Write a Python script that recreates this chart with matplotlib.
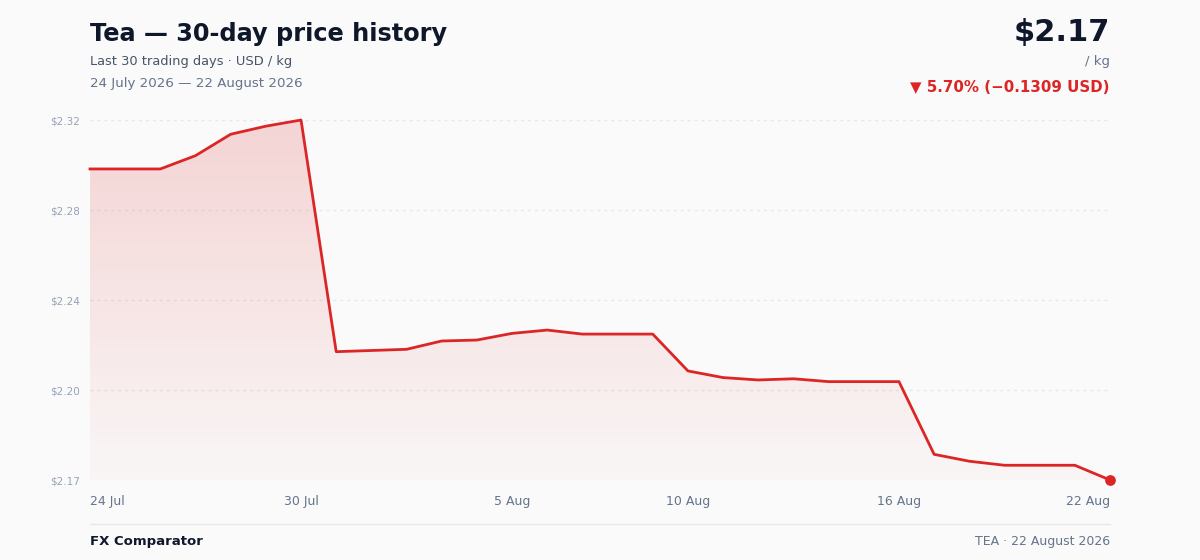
import numpy as np
import matplotlib
matplotlib.use("Agg")
import matplotlib.pyplot as plt
from matplotlib.colors import LinearSegmentedColormap

# price history, USD / kg, 24 Jul .. 22 Aug 2026
prices = [2.2965, 2.2965, 2.2965, 2.3021, 2.3111, 2.3145, 2.3171,
          2.2196, 2.2201, 2.2206, 2.2241, 2.2245, 2.2273, 2.2287,
          2.2270, 2.2270, 2.2270, 2.2115, 2.2087, 2.2077, 2.2082,
          2.2070, 2.2070, 2.2070, 2.1764, 2.1735, 2.1718, 2.1718,
          2.1718, 2.1656]
tick_idx = [0, 6, 12, 17, 23, 29]
tick_labels = ["24 Jul", "30 Jul", "5 Aug", "10 Aug", "16 Aug", "22 Aug"]

RED = "#dc2626"
BG = "#fafafa"
W, H = 1200, 560

x = np.arange(len(prices))
y = np.array(prices)
ymin, ymax = y.min(), y.max()

fig = plt.figure(figsize=(12, 5.6), dpi=100, facecolor=BG)


def px(xp, yp):
    return xp / W, 1 - yp / H


ax = fig.add_axes([90 / W, 1 - 480 / H, 1020 / W, 360 / H])
ax.set_facecolor(BG)
ax.set_xlim(0, len(prices) - 1)
ax.set_ylim(ymin, ymax)

# gradient area under the line
fill = ax.fill_between(x, y, ymin, color="none", lw=0)
cmap = LinearSegmentedColormap.from_list(
    "fade", [(0.863, 0.149, 0.149, 0.02), (0.863, 0.149, 0.149, 0.18)])
grad = np.linspace(0, 1, 256).reshape(-1, 1)
im = ax.imshow(grad, cmap=cmap, aspect="auto", origin="lower",
               extent=[0, len(prices) - 1, ymin, ymax], zorder=1)
im.set_clip_path(fill.get_paths()[0], transform=ax.transData)

ax.plot(x, y, color=RED, lw=2, zorder=3, clip_on=False, solid_joinstyle="round")
ax.scatter([x[-1]], [y[-1]], s=60, color=RED, zorder=4, clip_on=False, lw=0)

yt = np.linspace(ymin, ymax, 5)
ax.set_yticks(yt)
ax.set_yticklabels([f"${v:.2f}" for v in yt], fontsize=7.5, color="#94a3b8")
ax.grid(axis="y", color="#e2e8f0", lw=1, ls=(0, (2, 3)))
ax.set_axisbelow(True)
ax.tick_params(axis="y", length=0, pad=7)

ax.set_xticks(tick_idx)
ax.set_xticklabels(tick_labels, fontsize=9, color="#64748b")
ax.tick_params(axis="x", length=0, pad=11)
lbls = ax.get_xticklabels()
lbls[0].set_ha("left")
lbls[-1].set_ha("right")

for s in ax.spines.values():
    s.set_visible(False)

# header
fig.text(*px(90, 34), "Tea — 30-day price history", fontsize=17.3, fontweight="bold",
         color="#0f172a", va="center", ha="left")
fig.text(*px(90, 61), "Last 30 trading days · USD / kg", fontsize=9.4,
         color="#475569", va="center", ha="left")
fig.text(*px(90, 83), "24 July 2026 — 22 August 2026", fontsize=9.6,
         color="#64748b", va="center", ha="left")

change = prices[-1] - prices[0]
pct = change / prices[0] * 100
fig.text(*px(1110, 32), f"${prices[-1]:.2f}", fontsize=22, fontweight="bold",
         color="#0f172a", va="center", ha="right")
fig.text(*px(1110, 61), "/ kg", fontsize=9.5, color="#64748b", va="center", ha="right")
fig.text(*px(1110, 87), f"▼ {abs(pct):.2f}% (−{abs(change):.4f} USD)", fontsize=10.8,
         fontweight="bold", color=RED, va="center", ha="right")

# footer
fig.add_artist(plt.Line2D([90 / W, 1110 / W], [1 - 524 / H] * 2, color="#e5e7eb", lw=1))
fig.text(*px(90, 541), "FX Comparator", fontsize=9.5, fontweight="bold",
         color="#0f172a", va="center", ha="left")
fig.text(*px(1110, 541), "TEA · 22 August 2026", fontsize=9,
         color="#64748b", va="center", ha="right")

fig.savefig("out.png", dpi=100, facecolor=BG)
